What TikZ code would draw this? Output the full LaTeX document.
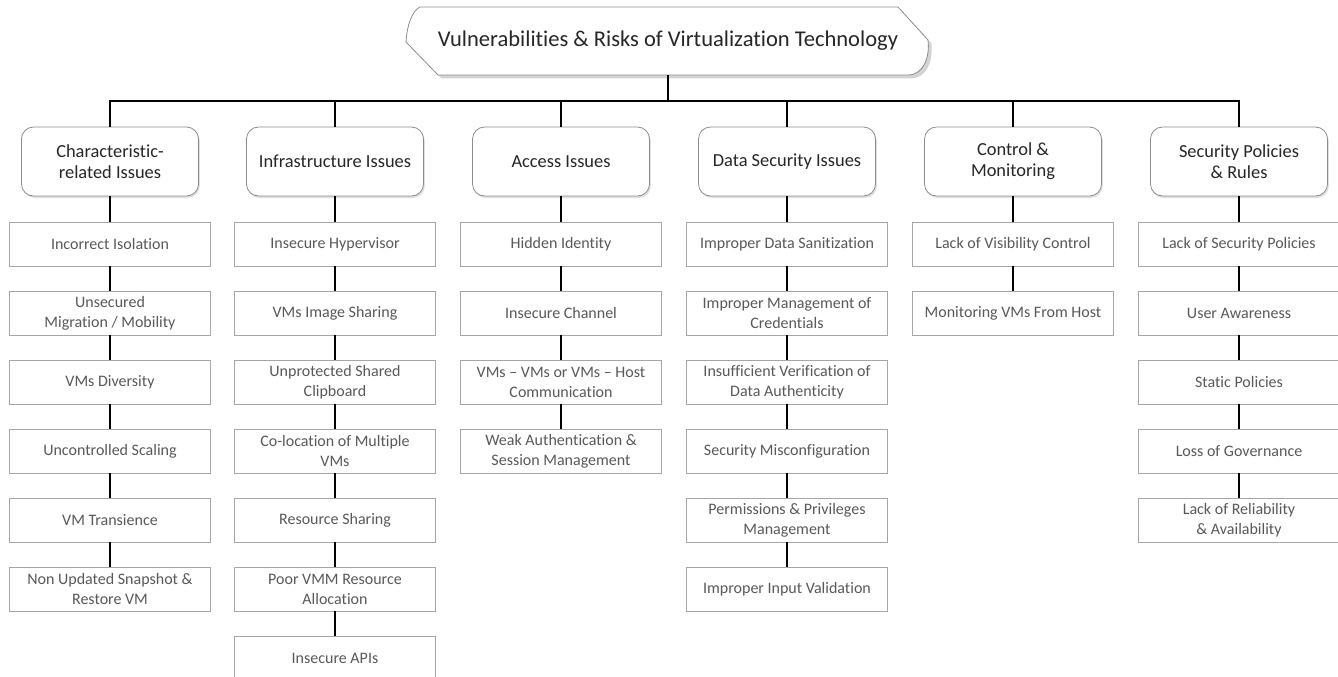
\documentclass[tikz,border=0pt]{standalone}
\usepackage{fontspec}
\setmainfont[Ligatures={NoCommon}]{Carlito}
\usetikzlibrary{shadows}
\definecolor{leafborder}{HTML}{A6A6A6}
\definecolor{leaftext}{HTML}{595959}
\definecolor{catborder}{HTML}{8C8C8C}
\definecolor{cattext}{HTML}{262626}
\begin{document}
\begin{tikzpicture}[x=0.75pt,y=-0.75pt,
  leaf/.style={draw=leafborder, line width=0.6pt, fill=white, minimum width=150.75pt, minimum height=33pt, inner sep=1pt, align=center, text=leaftext, font=\fontsize{12}{15}\selectfont},
  cat/.style={draw=catborder, line width=0.6pt, fill=white, rounded corners=9pt, minimum width=132.75pt, minimum height=51.75pt, inner sep=1pt, align=center, text=cattext, font=\fontsize{13.8}{16}\selectfont, drop shadow={opacity=0.25, shadow xshift=1pt, shadow yshift=-1.5pt}},
  link/.style={line width=0.9pt, black},
  titleshape/.style={draw=catborder, line width=0.6pt, fill=white, drop shadow={opacity=0.35, shadow xshift=2.5pt, shadow yshift=-2.5pt}}
]
\useasboundingbox (0,0) rectangle (1338,676);
% title shape
\path[titleshape] (420,7) -- (898,7) -- (928,40) .. controls (930,56) and (924,75) .. (908,75) -- (438,75) -- (406,42) .. controls (407,25) and (412,11) .. (420,7) -- cycle;
\node[minimum height=51pt, inner sep=0pt, text=cattext, font=\fontsize{16.9}{19}\selectfont] (title) at (668,41) {Vulnerabilities \& Risks of Virtualization Technology};
\coordinate (bus) at (668,101);

% categories
\node[cat] (c1) at (110,161.5) {Characteristic-\\related Issues};
\node[cat] (c2) at (335,161.5) {Infrastructure Issues};
\node[cat] (c3) at (561,161.5) {Access Issues};
\node[cat] (c4) at (787,161.5) {Data Security Issues};
\node[cat] (c5) at (1013,161.5) {Control \&\\Monitoring};
\node[cat] (c6) at (1239,161.5) {Security Policies\\\& Rules};

% column 1
\node[leaf] (a1) at (110,244) {Incorrect Isolation};
\node[leaf] (a2) at (110,313) {Unsecured\\Migration / Mobility};
\node[leaf] (a3) at (110,382) {VMs Diversity};
\node[leaf] (a4) at (110,451) {Uncontrolled Scaling};
\node[leaf] (a5) at (110,520) {VM Transience};
\node[leaf] (a6) at (110,589) {Non Updated Snapshot \&\\Restore VM};
% column 2
\node[leaf] (b1) at (335,244) {Insecure Hypervisor};
\node[leaf] (b2) at (335,313) {VMs Image Sharing};
\node[leaf] (b3) at (335,382) {Unprotected Shared\\Clipboard};
\node[leaf] (b4) at (335,451) {Co-location of Multiple\\VMs};
\node[leaf] (b5) at (335,520) {Resource Sharing};
\node[leaf] (b6) at (335,589) {Poor VMM Resource\\Allocation};
\node[leaf] (b7) at (335,658) {Insecure APIs};
% column 3
\node[leaf] (d1) at (561,244) {Hidden Identity};
\node[leaf] (d2) at (561,313) {Insecure Channel};
\node[leaf] (d3) at (561,382) {VMs – VMs or VMs – Host\\Communication};
\node[leaf] (d4) at (561,451) {Weak Authentication \&\\Session Management};
% column 4
\node[leaf] (e1) at (787,244) {Improper Data Sanitization};
\node[leaf] (e2) at (787,313) {Improper Management of\\Credentials};
\node[leaf] (e3) at (787,382) {Insufficient Verification of\\Data Authenticity};
\node[leaf] (e4) at (787,451) {Security Misconfiguration};
\node[leaf] (e5) at (787,520) {Permissions \& Privileges\\Management};
\node[leaf] (e6) at (787,589) {Improper Input Validation};
% column 5
\node[leaf] (f1) at (1013,244) {Lack of Visibility Control};
\node[leaf] (f2) at (1013,313) {Monitoring VMs From Host};
% column 6
\node[leaf] (g1) at (1239,244) {Lack of Security Policies};
\node[leaf] (g2) at (1239,313) {User Awareness};
\node[leaf] (g3) at (1239,382) {Static Policies};
\node[leaf] (g4) at (1239,451) {Loss of Governance};
\node[leaf] (g5) at (1239,520) {Lack of Reliability\\\& Availability};

% connectors
\draw[link] (title.south) -- (bus);
\foreach \c in {c1,c2,c3,c4,c5,c6} {\draw[link] (\c.north) |- (bus);}
\draw[link] (c1.south) -- (a1.north);
\foreach \u/\v in {a1/a2,a2/a3,a3/a4,a4/a5,a5/a6} {\draw[link] (\u.south) -- (\v.north);}
\draw[link] (c2.south) -- (b1.north);
\foreach \u/\v in {b1/b2,b2/b3,b3/b4,b4/b5,b5/b6,b6/b7} {\draw[link] (\u.south) -- (\v.north);}
\draw[link] (c3.south) -- (d1.north);
\foreach \u/\v in {d1/d2,d2/d3,d3/d4} {\draw[link] (\u.south) -- (\v.north);}
\draw[link] (c4.south) -- (e1.north);
\foreach \u/\v in {e1/e2,e2/e3,e3/e4,e4/e5,e5/e6} {\draw[link] (\u.south) -- (\v.north);}
\draw[link] (c5.south) -- (f1.north);
\foreach \u/\v in {f1/f2} {\draw[link] (\u.south) -- (\v.north);}
\draw[link] (c6.south) -- (g1.north);
\foreach \u/\v in {g1/g2,g2/g3,g3/g4,g4/g5} {\draw[link] (\u.south) -- (\v.north);}
\end{tikzpicture}
\end{document}
